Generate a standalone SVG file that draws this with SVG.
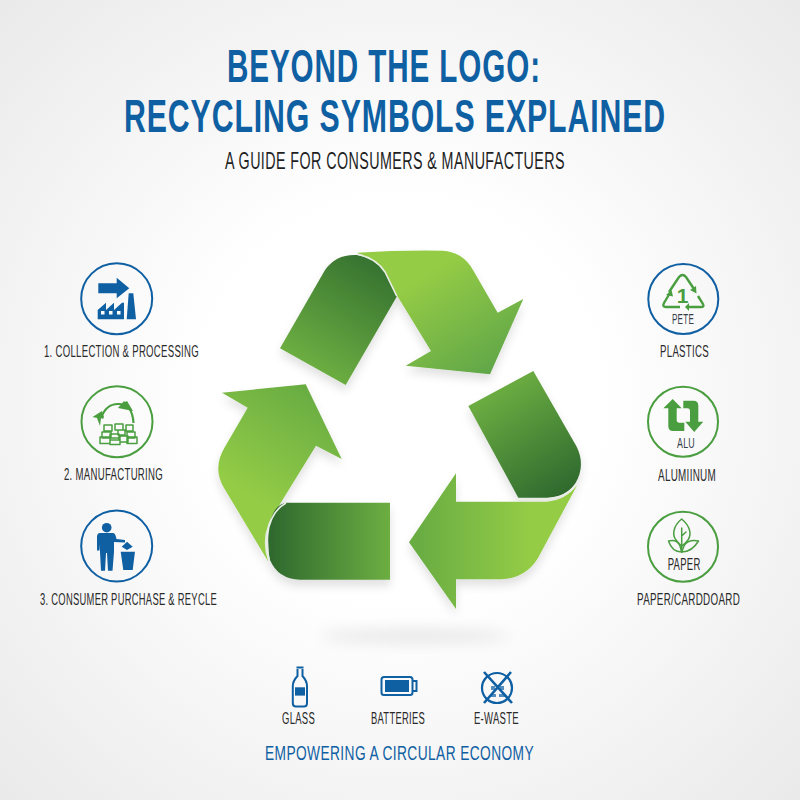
<svg xmlns="http://www.w3.org/2000/svg" width="800" height="800" viewBox="0 0 800 800">
<style>
text{font-family:"Liberation Sans",Arial,sans-serif}
.t{font-weight:700;font-size:47px;fill:#0f5fa3;transform:scale(.65,1);letter-spacing:.03em}
.s{font-size:23px;fill:#1f1f1f;transform:scale(.65,1);letter-spacing:.03em}
.l{font-size:17px;fill:#2a2a2a;transform:scale(.6,1);letter-spacing:.03em}
.m{font-size:14.500px;fill:#34404a;transform:scale(.6,1);letter-spacing:.03em}
.f{font-size:20px;fill:#0f5fa3;transform:scale(.6,1);letter-spacing:.03em}
.b{fill:#0f5fa3}
.g{fill:#4a9e40}
.cb{fill:none;stroke:#0f5fa3;stroke-width:2}
.cg{fill:none;stroke:#4a9e40;stroke-width:2}
.lg{fill:none;stroke:#4a9e40;stroke-width:1.500;stroke-linejoin:round;stroke-linecap:round}
.ln{fill:none;stroke:#0f5fa3;stroke-width:2}
.edge{fill:none;stroke:#e9efe6;stroke-width:1.600}
</style>
<defs>
<radialGradient id="bg" cx="50%" cy="50%" r="72%"><stop offset="0.35" stop-color="#fff"/><stop offset="1" stop-color="#e9e9e9"/></radialGradient>
<linearGradient id="d1" gradientUnits="userSpaceOnUse" x1="385" y1="262" x2="318" y2="372"><stop offset="0" stop-color="#33702f"/><stop offset="1" stop-color="#6dae42"/></linearGradient>
<linearGradient id="l1" gradientUnits="userSpaceOnUse" x1="425" y1="275" x2="490" y2="378"><stop offset="0" stop-color="#95cc45"/><stop offset="1" stop-color="#5fa548"/></linearGradient>
<linearGradient id="d2" gradientUnits="userSpaceOnUse" x1="565" y1="492" x2="498" y2="385"><stop offset="0" stop-color="#2f6a2e"/><stop offset="1" stop-color="#6dae42"/></linearGradient>
<linearGradient id="l2" gradientUnits="userSpaceOnUse" x1="530" y1="540" x2="415" y2="540"><stop offset="0" stop-color="#94cc45"/><stop offset="1" stop-color="#68ac43"/></linearGradient>
<linearGradient id="d3" gradientUnits="userSpaceOnUse" x1="272" y1="540" x2="390" y2="540"><stop offset="0" stop-color="#2f6a2e"/><stop offset="1" stop-color="#6dae42"/></linearGradient>
<linearGradient id="l3" gradientUnits="userSpaceOnUse" x1="240" y1="490" x2="305" y2="385"><stop offset="0" stop-color="#94cc45"/><stop offset="1" stop-color="#68ac43"/></linearGradient>
<filter id="sh" x="-20%" y="-20%" width="140%" height="140%"><feDropShadow dx="0" dy="6" stdDeviation="5" flood-color="#000" flood-opacity="0.12"/></filter>
<filter id="bl" x="-30%" y="-300%" width="160%" height="700%"><feGaussianBlur stdDeviation="8"/></filter>
</defs>
<rect width="800" height="800" fill="url(#bg)"/>
<g id="title">
<text class="t" x="349.200" y="82" textLength="483" lengthAdjust="spacingAndGlyphs">BEYOND THE LOGO:</text>
<text class="t" x="190.800" y="132" textLength="834" lengthAdjust="spacingAndGlyphs">RECYCLING SYMBOLS EXPLAINED</text>
<text class="s" x="346.200" y="169" textLength="523" lengthAdjust="spacingAndGlyphs">A GUIDE FOR CONSUMERS &amp; MANUFACTUERS</text>
</g>
<ellipse cx="415" cy="636" rx="95" ry="5" fill="#000" opacity="0.12" filter="url(#bl)"/>
<g id="recycling-symbol">
<g filter="url(#sh)">
<path fill="url(#l1)" d="M356.700,252.700 Q400,250 443,250.700 Q463,252 473,270 L497.700,312.700 L523.300,299 L490,374.300 L405.700,365.700 L431,351 L396.700,295 Q382,262 356.700,252.700Z"/>
<path fill="url(#d1)" d="M280,348.300 L325,270 Q336,254 356.700,255 Q376,258 385,272 L396.700,296.700 L345.700,385Z"/>
</g>
<path class="edge" d="M356.700,254 Q376,258 385,272 L396.700,296"/>
<g filter="url(#sh)">
<path fill="url(#l2)" d="M577.300,485 Q566,500 546.700,501.700 L456,501.700 V473.300 L409,542.300 L456,609 V579.300 L501.700,579.300 Q526,578 538,558Z"/>
<path fill="url(#d2)" d="M533.300,371 L468.300,406 L518.300,497.700 L546.700,497.700 Q566,497 575,484 Q586,466 576.700,446.700Z"/>
</g>
<path class="edge" d="M518.300,499 L546.700,499 Q566,498 576,484"/>
<g filter="url(#sh)">
<path fill="url(#l3)" d="M268.300,561.700 L224,488 Q212,468 225,446.700 L247.700,407.700 L222,392.700 L305.700,384.300 L341.700,459 L316,445.700 L278.300,506.700 Q258,533 268.300,561.700Z"/>
<path fill="url(#d3)" d="M390,502.700 H286 Q272,505 268.500,530 Q267,548 270,560 Q278,579 300,579.700 H390Z"/>
</g>
<path class="edge" d="M286,503 Q270,512 267.500,535 Q267,550 269,561"/>
</g>
<g id="step-1">
<circle class="cb" cx="116.700" cy="298.700" r="35.500"/>
<path class="b" d="M98.300,283.300 H116.700 V277.700 L129.300,288.300 L116.700,298.300 V293.300 H98.300Z"/>
<path class="b" d="M97.700,319.300 V310 L106,302.700 V310 L114,302.700 V310 L122,302.700 L124,302.700 V319.300Z"/>
<path class="b" d="M126.700,319.300 L128.700,293.300 H133.300 L136,319.300Z"/>
<path fill="#fff" d="M101,311h3.500v3.500h-3.500zM109,311h3.500v3.500h-3.500zM117,311h3.500v3.500h-3.500z"/>
<text class="l" x="73.330" y="357" textLength="258.300" lengthAdjust="spacingAndGlyphs">1. COLLECTION &amp; PROCESSING</text>
</g>
<g id="step-2">
<circle class="cg" cx="117" cy="421.700" r="35.500"/>
<path d="M101,418 Q106,404 118,404 Q126,404 129,408 Q133,414 133.500,423" fill="none" stroke="#4a9e40" stroke-width="2.200"/>
<path class="g" d="M118,408 L124,401 L125,402 L127,401 L133,411Z"/>
<path class="g" d="M92.500,417 L98,413.500 L102,411 L104,417 L103,419 L101,418 L100,426 L97,418Z"/>
<g class="lg">
<path d="M104,425h8v6h-8zM115,424h8v6h-8zM126,425h7v6h-7zM102,432h9v6h-9zM110,434h9v6h-9zM118,430h7v5h-7zM127,432h8v6h-8zM100,437h10v6.500h-10zM110,438h10v6.500h-10zM120,436h8v6h-8zM127,437h10v6.500h-10z"/>
</g>
<text class="l" x="106.670" y="480" textLength="165" lengthAdjust="spacingAndGlyphs">2. MANUFACTURING</text>
</g>
<g id="step-3">
<circle class="cb" cx="116.700" cy="546" r="35.500"/>
<circle class="b" cx="106.700" cy="527.700" r="4.800"/>
<path class="b" d="M100,533 H113 Q115,533 116,537 L116.500,539 L125,540 V542.500 L114,542 V552 L112.500,570.700 H108 L107,553 H106 L105,570.700 H101 L100,552 V544 L99.500,550.500 H97 V537 Q97,533 100,533Z"/>
<path class="b" d="M127,541.700 L132.700,546.700 L127,550 L121.700,546.700Z"/>
<path class="b" d="M120.700,551.700 H135 L132.700,570 H123.300Z"/>
<text class="l" x="66.670" y="605" textLength="295" lengthAdjust="spacingAndGlyphs">3. CONSUMER PURCHASE &amp; REYCLE</text>
</g>
<g id="plastics">
<circle class="cb" cx="683.300" cy="299" r="35"/>
<path d="M669,292 L679,277 Q682.700,273 686,277 L694,289" fill="none" stroke="#4a9e40" stroke-width="2.400"/>
<path class="g" d="M690,290 L696,286 L696.500,293.500Z"/>
<path d="M698,296 L703,304 Q704.500,307 701,307 L688,307" fill="none" stroke="#4a9e40" stroke-width="2.400"/>
<path class="g" d="M689,303 L685,307 L689,311Z"/>
<path d="M680,307 L666,307 Q662,307 664,303 L670,293" fill="none" stroke="#4a9e40" stroke-width="2.400"/>
<path class="g" d="M666,295 L671.500,290 L673,296.500Z"/>
<text x="682.500" y="303" font-size="21" font-weight="700" fill="#4a9e40" text-anchor="middle">1</text>
<text class="m" x="1120" y="324" textLength="36.700" lengthAdjust="spacingAndGlyphs">PETE</text>
<text class="l" x="1100" y="357" textLength="81.700" lengthAdjust="spacingAndGlyphs">PLASTICS</text>
</g>
<g id="aluminum">
<circle class="cg" cx="683" cy="421.700" r="35"/>
<path class="g" d="M663.300,408.300 L672.700,399 L681.700,408.300 H676.700 V420 Q676.700,422.700 679.500,422.700 H684.300 V431 H673 Q668.300,431 668.300,426 V408.300Z"/>
<path class="g" d="M683.300,400.700 H693.500 Q698.300,400.700 698.300,405.500 V421.700 H703.300 L694.200,432 L685.300,421.700 H690 V411 Q690,408.300 687.300,408.300 H683.300Z"/>
<text class="m" x="1128.300" y="448" textLength="30" lengthAdjust="spacingAndGlyphs">ALU</text>
<text class="l" x="1096.700" y="481" textLength="96.700" lengthAdjust="spacingAndGlyphs">ALUMIINUM</text>
</g>
<g id="paper">
<circle class="cg" cx="683" cy="546.700" r="35"/>
<g class="lg">
<path d="M681.700,519 C673,526 672,535 676,540 Q679,544 681.700,546 Q685,544 688,540 C692,534 690,526 681.700,519Z"/>
<path d="M681.700,528 V552 M681.700,536 L686,532"/>
<path d="M668.500,541 Q677,539 680,546 L681.700,552 Q672,552 668.500,541Z"/>
<path d="M698.500,541 Q688,539 684,546 L681.700,552 Q692,552 698.500,541Z"/>
</g>
<text class="l" x="1112.800" y="570" textLength="55" lengthAdjust="spacingAndGlyphs">PAPER</text>
<text class="l" x="1061.700" y="605" textLength="171.700" lengthAdjust="spacingAndGlyphs">PAPER/CARDDOARD</text>
</g>
<g id="glass">
<path class="ln" d="M296.500,667.500 H303.500 M297.500,669 V676 Q292.800,681 292.800,686 V703 Q292.800,706.500 296,706.500 H304 Q307,706.500 307,703 V686 Q307,681 302.500,676 V669" stroke-width="1.700"/>
<rect class="b" x="295" y="687.300" width="10" height="8.300"/>
<text class="l" x="470" y="724.500" textLength="55" lengthAdjust="spacingAndGlyphs">GLASS</text>
</g>
<g id="batteries">
<rect class="ln" x="381.500" y="677" width="31" height="18" rx="2.500"/>
<rect class="b" x="385" y="680" width="24" height="12"/>
<path class="ln" d="M413,681 H416.500 V691 H413"/>
<text class="l" x="618.300" y="724.500" textLength="90" lengthAdjust="spacingAndGlyphs">BATTERIES</text>
</g>
<g id="e-waste">
<circle cx="497" cy="688" r="15" fill="none" stroke="#0f5fa3" stroke-width="2.200"/>
<path d="M484,672 L512,703 M511,672 L484,703" fill="none" stroke="#0f5fa3" stroke-width="2.600"/>
<path d="M491,686h4v4h-4zM500,686h4v4h-4zM490,694h6v3h-6zM499,694h6v3h-6z" fill="#0f5fa3" opacity="0.7"/>
<text class="l" x="790" y="724.500" textLength="75" lengthAdjust="spacingAndGlyphs">E-WASTE</text>
</g>
<g id="footer">
<text class="f" x="441.700" y="760" textLength="448.300" lengthAdjust="spacingAndGlyphs">EMPOWERING A CIRCULAR ECONOMY</text>
</g>
</svg>
